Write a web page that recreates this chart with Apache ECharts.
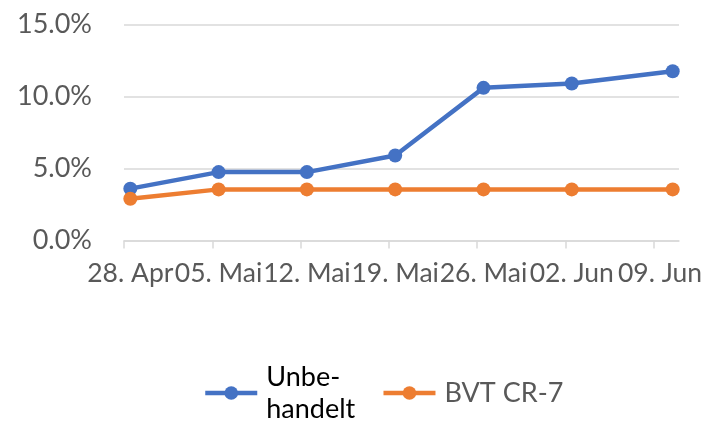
<!DOCTYPE html>
<html>
<head>
<meta charset="utf-8">
<script src="https://cdn.jsdelivr.net/npm/echarts@6/dist/echarts.min.js"></script>
<style>
html,body{margin:0;padding:0;background:#fff;}
#chart{width:717px;height:421px;}
</style>
</head>
<body>
<div id="chart"></div>
<script>
// Data
const startDate = '2019-04-28';
const axisEndDate = '2019-06-11';
const tickDates = ['2019-04-28','2019-05-05','2019-05-12','2019-05-19','2019-05-26','2019-06-02','2019-06-09'];
const tickLabels = ['28. Apr','05. Mai','12. Mai','19. Mai','26. Mai','02. Jun','09. Jun'];
const pointDates = ['2019-04-28','2019-05-05','2019-05-12','2019-05-19','2019-05-26','2019-06-02','2019-06-10'];
const seriesNames = ['Unbe-\nhandelt','BVT CR-7'];
const unbehandelt = [3.6, 4.75, 4.75, 5.9, 10.6, 10.9, 11.75];
const bvt = [2.9, 3.55, 3.55, 3.55, 3.55, 3.55, 3.55];
const yTicks = [0, 5, 10, 15];

function dayIndex(s){
  const p = s.split('-').map(Number);
  const a = startDate.split('-').map(Number);
  return (Date.UTC(p[0],p[1]-1,p[2]) - Date.UTC(a[0],a[1]-1,a[2]))/86400000;
}
const tickDays = tickDates.map(dayIndex);
const labelDays = tickDays.map(d => d + 0.5);
const endDay = dayIndex(axisEndDate);
const pts = (vals) => pointDates.map((d,i) => [dayIndex(d) + 0.5, vals[i]]);

const font = 'Lato';
const chart = echarts.init(document.getElementById('chart'), null, {renderer:'canvas'});
chart.setOption({
  animation: false,
  backgroundColor: '#fff',
  grid: {left: 124, right: 38, top: 24.5, bottom: 180.5, containLabel: false},
  xAxis: {
    type: 'value', min: 0, max: endDay,
    axisLine: {show: true, lineStyle: {color: '#D9D9D9', width: 1.5}},
    axisTick: {show: true, length: 8, customValues: tickDays, lineStyle: {color: '#D9D9D9', width: 1.5}},
    axisLabel: {
      customValues: labelDays,
      showMinLabel: true, showMaxLabel: true, hideOverlap: false,
      margin: 19,
      color: '#595959', fontFamily: font, fontSize: 26.5,
      formatter: (v) => { const i = labelDays.findIndex(d => Math.abs(d - v) < 1e-6); return i >= 0 ? tickLabels[i] : ''; }
    },
    splitLine: {show: false}
  },
  yAxis: {
    type: 'value', min: yTicks[0], max: yTicks[yTicks.length-1], interval: yTicks[1]-yTicks[0],
    axisLine: {show: false}, axisTick: {show: false},
    axisLabel: {margin: 32, color: '#595959', fontFamily: font, fontSize: 27, formatter: v => v.toFixed(1) + '%'},
    splitLine: {lineStyle: {color: '#D9D9D9', width: 1.5}}
  },
  legend: {
    left: 203, top: 361, padding: 0,
    itemWidth: 52, itemHeight: 17, itemGap: 26,
    lineStyle: {width: 4.5},
    textStyle: {fontFamily: font, fontSize: 27, color: '#595959', lineHeight: 32, padding: [0,0,0,4]},
    data: [
      {name: seriesNames[0], textStyle: {color: '#000000'}},
      {name: seriesNames[1], textStyle: {color: '#595959'}}
    ]
  },
  series: [
    {name: seriesNames[0], type: 'line', data: pts(unbehandelt), symbol: 'circle', symbolSize: 14,
     itemStyle: {color: '#4472C4'}, lineStyle: {color: '#4472C4', width: 4.5}},
    {name: seriesNames[1], type: 'line', data: pts(bvt), symbol: 'circle', symbolSize: 14,
     itemStyle: {color: '#ED7D31'}, lineStyle: {color: '#ED7D31', width: 4.5}}
  ]
});
</script>
</body>
</html>
